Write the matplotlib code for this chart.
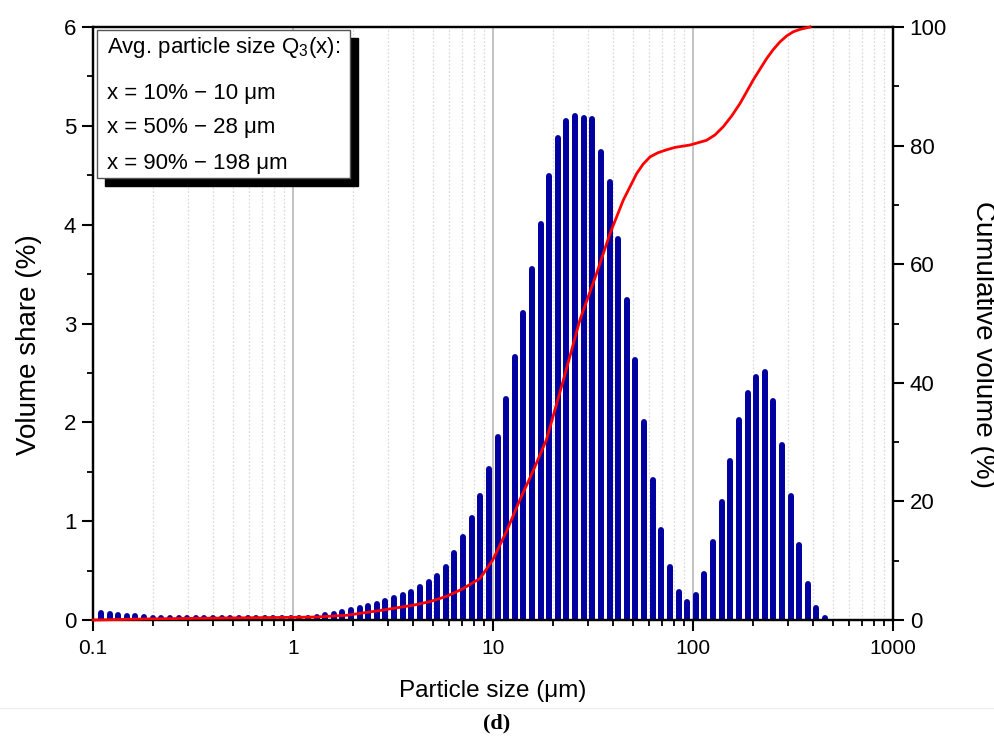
import matplotlib
matplotlib.use("Agg")
import matplotlib.pyplot as plt
from matplotlib.ticker import FixedLocator, NullFormatter, LogLocator
from matplotlib.patches import Rectangle
from matplotlib.lines import Line2D

plt.rcParams['font.family'] = ['Liberation Sans', 'DejaVu Sans']
plt.rcParams['mathtext.fontset'] = 'custom'
plt.rcParams['mathtext.rm'] = 'Liberation Sans'
plt.rcParams['mathtext.it'] = 'Liberation Sans:italic'

# ---------------- data ----------------
size_um = [0.1096, 0.1211, 0.1337, 0.1477, 0.1631, 0.1801, 0.1989, 0.2196, 0.2425, 0.2679,
           0.2958, 0.3267, 0.3607, 0.3984, 0.4400, 0.4859, 0.5366, 0.5926, 0.6544, 0.7227,
           0.7980, 0.8813, 0.9732, 1.075, 1.187, 1.311, 1.447, 1.599, 1.765, 1.949,
           2.153, 2.377, 2.625, 2.899, 3.202, 3.536, 3.905, 4.312, 4.762, 5.259,
           5.808, 6.414, 7.083, 7.822, 8.638, 9.539, 10.54, 11.63, 12.85, 14.19,
           15.67, 17.30, 19.11, 21.10, 23.30, 25.74, 28.42, 31.38, 34.66, 38.27,
           42.27, 46.68, 51.55, 56.92, 62.86, 69.42, 76.66, 84.66, 93.50, 103.2,
           114.0, 125.9, 139.1, 153.6, 169.6, 187.3, 206.8, 228.4, 252.2, 278.6,
           307.6, 339.7, 375.2, 414.3, 457.6, 505.3, 558.0, 616.3, 680.6, 751.6,
           830.0, 916.6]

volume_share = [0.068, 0.061, 0.052, 0.045, 0.036, 0.029, 0.024, 0.020, 0.020, 0.020,
                0.020, 0.020, 0.020, 0.020, 0.020, 0.020, 0.020, 0.020, 0.020, 0.020,
                0.020, 0.018, 0.018, 0.018, 0.018, 0.027, 0.047, 0.064, 0.081, 0.100,
                0.120, 0.140, 0.160, 0.190, 0.220, 0.250, 0.280, 0.330, 0.380, 0.450,
                0.540, 0.680, 0.840, 1.030, 1.250, 1.530, 1.850, 2.240, 2.660, 3.110,
                3.550, 4.010, 4.490, 4.880, 5.050, 5.100, 5.080, 5.070, 4.740, 4.430,
                3.850, 3.240, 2.630, 2.000, 1.420, 0.910, 0.540, 0.280, 0.185, 0.250,
                0.465, 0.790, 1.190, 1.610, 2.020, 2.300, 2.460, 2.510, 2.220, 1.770,
                1.250, 0.760, 0.360, 0.125, 0.020, 0.005, 0.005, 0.005, 0.005, 0.005,
                0.005, 0.005]

cum_size_um = [0.1, 0.2, 0.5, 1.0, 1.3, 1.86, 2.72, 4.0, 4.84, 5.87, 7.1, 7.67, 8.61, 10.0,
               11.7, 13.6, 15.9, 18.5, 22.5, 27.2, 33.0, 38.5, 44.8, 52.3, 56.4, 61.0,
               66.8, 73.9, 81.3, 96.6, 117.0, 128.8, 141.8, 156.1, 171.8, 185.6, 200.3,
               216.3, 233.7, 252.0, 272.3, 294.0, 317.3, 342.8, 384.6]
cum_volume = [0.0, 0.2, 0.35, 0.45, 0.5, 0.8, 1.6, 2.5, 3.1, 4.0, 5.3, 6.0, 7.0, 10.2,
              15.0, 20.2, 25.2, 30.4, 40.5, 50.6, 58.5, 65.2, 70.8, 75.3, 76.9, 78.1,
              78.8, 79.3, 79.7, 80.1, 80.9, 81.8, 83.2, 85.0, 87.1, 89.1, 91.1,
              92.9, 94.7, 96.2, 97.5, 98.5, 99.2, 99.6, 100.0]

x_ticks = [0.1, 1, 10, 100, 1000]
x_tick_labels = ["0.1", "1", "10", "100", "1000"]
y_ticks = [0, 1, 2, 3, 4, 5, 6]
y2_ticks = [0, 20, 40, 60, 80, 100]

legend_lines = ["Avg. particle size Q$_3$(x):",
                "x = 10% \u2212 10 \u03bcm",
                "x = 50% \u2212 28 \u03bcm",
                "x = 90% \u2212 198 \u03bcm"]

# ---------------- figure ----------------
W, H = 995, 753
fig = plt.figure(figsize=(W / 100, H / 100), dpi=100)
ax = fig.add_axes([93 / W, 1 - 620 / H, 800 / W, 593 / H])

ax.set_xscale('log')
ax.set_xlim(0.1, 1000)
ax.set_ylim(0, 6)

# grid
ax.xaxis.set_minor_locator(LogLocator(base=10, subs=[2, 3, 4, 5, 6, 7, 8, 9]))
ax.xaxis.set_minor_formatter(NullFormatter())
ax.grid(True, which='major', axis='x', color='#b8b8b8', lw=1.2, ls='-', zorder=0)
ax.grid(True, which='minor', axis='x', color='#dcdcdc', lw=0.9, ls=(0, (1.5, 1.5)), zorder=0)
ax.set_axisbelow(True)

# bars
vl = ax.vlines(size_um, 0, volume_share, colors='#0000a0', lw=4.3, zorder=2)
vl.set_capstyle('round')

ax.set_xticks(x_ticks)
ax.set_xticklabels(x_tick_labels)
ax.set_yticks(y_ticks)
ax.yaxis.set_minor_locator(FixedLocator([0.5, 1.5, 2.5, 3.5, 4.5, 5.5]))

ax.tick_params(axis='both', which='major', direction='out', length=8, width=1.5,
               colors='black')
ax.tick_params(axis='both', which='minor', direction='out', length=4.3, width=1.3)
ax.tick_params(axis='x', which='major', pad=6, labelsize=15)
ax.tick_params(axis='y', which='major', pad=4, labelsize=16)
ax.tick_params(axis='x', which='both', top=False)
for s in ax.spines.values():
    s.set_linewidth(1.6)
    s.set_color('black')

ax.set_xlabel("Particle size (\u03bcm)", fontsize=17.5)
ax.xaxis.set_label_coords(0.5, (620 - 691) / 593)
ax.xaxis.label.set_va('center')
ax.set_ylabel("Volume share (%)", fontsize=20)
ax.yaxis.set_label_coords((29 - 93) / 800, 0.465)
ax.yaxis.label.set_va('center')

# cumulative
ax2 = ax.twinx()
ax2.set_ylim(0, 100)
ax2.plot(cum_size_um, cum_volume, color='#ff0000', lw=2.0, zorder=3, clip_on=False,
         solid_joinstyle='round')
ax2.set_yticks(y2_ticks)
ax2.yaxis.set_minor_locator(FixedLocator([10, 30, 50, 70, 90]))
ax2.tick_params(axis='y', which='major', direction='out', length=8, width=1.5,
                labelsize=16, pad=4)
ax2.tick_params(axis='y', which='minor', direction='out', length=4.3, width=1.3)
for s in ax2.spines.values():
    s.set_linewidth(1.6)
ax2.set_ylabel("Cumulative volume (%)", fontsize=20, rotation=270)
ax2.yaxis.set_label_coords((983 - 93) / 800, 0.465)
ax2.yaxis.label.set_va('center')
ax2.yaxis.label.set_ha('center')

# info box with shadow
bx0, by0, bw, bh = 97 / W, 1 - 178 / H, 253 / W, 148 / H
dx, dy = 8 / W, -8 / H
fig.patches.append(Rectangle((bx0 + dx, by0 + dy), bw, bh, transform=fig.transFigure,
                             facecolor='black', edgecolor='black', zorder=5))
fig.patches.append(Rectangle((bx0, by0), bw, bh, transform=fig.transFigure,
                             facecolor='white', edgecolor='#555555', lw=1.0, zorder=6))
line_y = [48, 93, 128, 163]
for txt, yy in zip(legend_lines, line_y):
    fig.text(107 / W, 1 - yy / H, txt, fontsize=16, va='center', ha='left', zorder=7)

# separator and caption
fig.add_artist(Line2D([0, 1], [1 - 708 / H, 1 - 708 / H], transform=fig.transFigure,
                      color='#eeeeee', lw=1))
fig.text(497 / W, 1 - 723 / H, "(d)", fontsize=16, fontweight='bold',
         family='Liberation Serif', ha='center', va='center')

fig.savefig("out.png", dpi=100)
